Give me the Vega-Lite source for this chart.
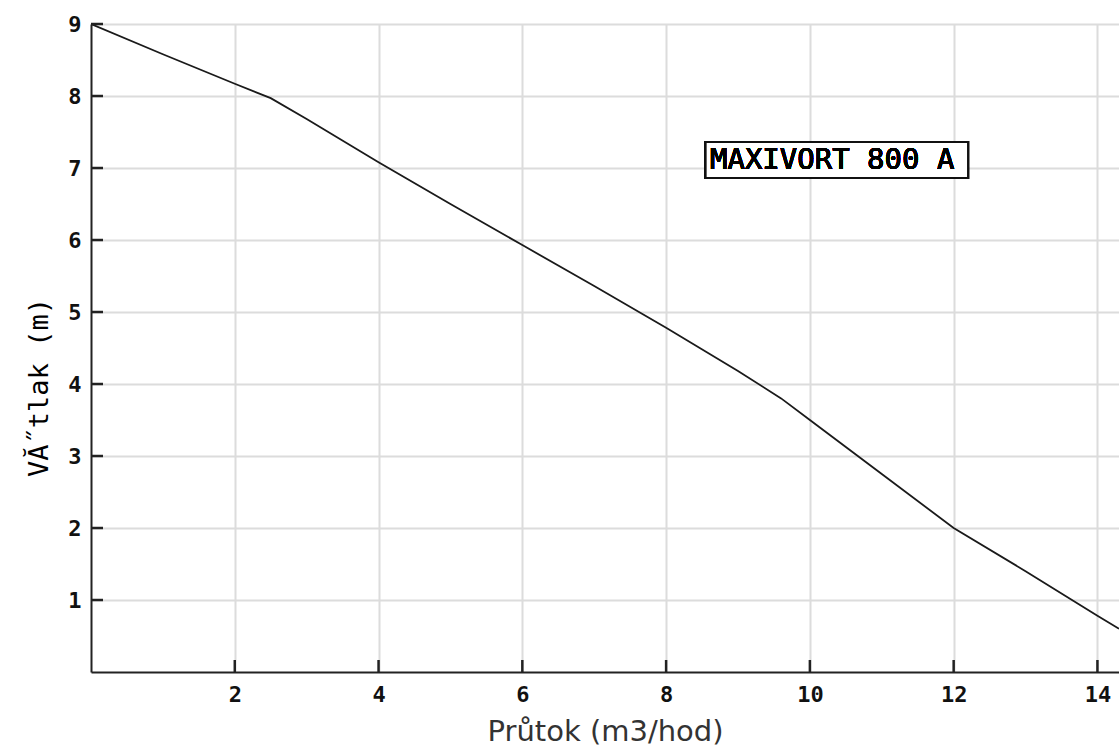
{
  "$schema": "https://vega.github.io/schema/vega-lite/v6.json",
  "width": 1028,
  "height": 648,
  "autosize": {"type": "none"},
  "padding": {"left": 91, "top": 24, "right": 0, "bottom": 77},
  "background": "white",
  "config": {
    "view": {"stroke": null},
    "axis": {
      "domainColor": "#222",
      "domainWidth": 2,
      "ticks": false,
      "gridColor": "#dcdcdc",
      "gridWidth": 2,
      "labelFont": "DejaVu Sans Mono",
      "labelFontWeight": "bold",
      "labelFontSize": 22,
      "labelColor": "#111",
      "format": "d"
    }
  },
  "datasets": {
    "curve": [
      {"q": 0, "h": 9.0},
      {"q": 1, "h": 8.58},
      {"q": 2, "h": 8.17},
      {"q": 2.5, "h": 7.97},
      {"q": 3, "h": 7.68},
      {"q": 4, "h": 7.08},
      {"q": 5, "h": 6.5},
      {"q": 6, "h": 5.93},
      {"q": 7, "h": 5.36},
      {"q": 8, "h": 4.78},
      {"q": 9, "h": 4.18},
      {"q": 9.6, "h": 3.8},
      {"q": 10, "h": 3.5},
      {"q": 11, "h": 2.75},
      {"q": 12, "h": 2.0},
      {"q": 13, "h": 1.4},
      {"q": 14, "h": 0.78},
      {"q": 14.3, "h": 0.6}
    ],
    "xticks": [{"t": 2}, {"t": 4}, {"t": 6}, {"t": 8}, {"t": 10}, {"t": 12}, {"t": 14}],
    "yticks": [{"t": 1}, {"t": 2}, {"t": 3}, {"t": 4}, {"t": 5}, {"t": 6}, {"t": 7}, {"t": 8}, {"t": 9}]
  },
  "layer": [
    {
      "data": {"name": "curve"},
      "mark": {"type": "line", "color": "#1a1a1a", "strokeWidth": 1.8, "clip": true},
      "encoding": {
        "x": {
          "field": "q", "type": "quantitative",
          "scale": {"domain": [0, 14.3], "nice": false, "zero": false},
          "axis": {
            "values": [2, 4, 6, 8, 10, 12, 14],
            "format": "d",
            "title": "Průtok (m3/hod)",
            "titleFont": "DejaVu Sans",
            "titleFontSize": 29,
            "titleFontWeight": "normal",
            "titleColor": "#333",
            "titlePadding": 12,
            "labelPadding": 12
          }
        },
        "y": {
          "field": "h", "type": "quantitative",
          "scale": {"domain": [0, 9], "nice": false, "zero": false},
          "axis": {
            "values": [1, 2, 3, 4, 5, 6, 7, 8, 9],
            "format": "d",
            "title": "VĂ˝tlak (m)",
            "titleFont": "DejaVu Sans Mono",
            "titleFontSize": 27,
            "titleFontWeight": "normal",
            "titleColor": "#000",
            "titleY": 363,
            "titlePadding": 14,
            "labelPadding": 10
          }
        }
      }
    },
    {
      "data": {"name": "xticks"},
      "mark": {"type": "rule", "color": "#222", "strokeWidth": 2.5},
      "encoding": {
        "x": {"field": "t", "type": "quantitative"},
        "y": {"datum": 0, "type": "quantitative"},
        "y2": {"datum": 0.167}
      }
    },
    {
      "data": {"name": "yticks"},
      "mark": {"type": "rule", "color": "#222", "strokeWidth": 2.5},
      "encoding": {
        "y": {"field": "t", "type": "quantitative"},
        "x": {"datum": 0, "type": "quantitative"},
        "x2": {"datum": 0.167}
      }
    },
    {
      "data": {"name": "curve"},
      "mark": {"type": "rect", "fill": "white", "stroke": "#111", "strokeWidth": 2},
      "encoding": {
        "x": {"datum": 8.55, "type": "quantitative"},
        "x2": {"datum": 12.2},
        "y": {"datum": 7.36, "type": "quantitative"},
        "y2": {"datum": 6.86}
      }
    },
    {
      "data": {"name": "curve"},
      "mark": {"type": "text", "font": "DejaVu Sans Mono", "fontSize": 29, "align": "left", "baseline": "middle", "color": "#000"},
      "encoding": {
        "x": {"datum": 8.61, "type": "quantitative"},
        "y": {"datum": 7.11, "type": "quantitative"},
        "text": {"value": "MAXIVORT 800 A"}
      }
    }
  ]
}
